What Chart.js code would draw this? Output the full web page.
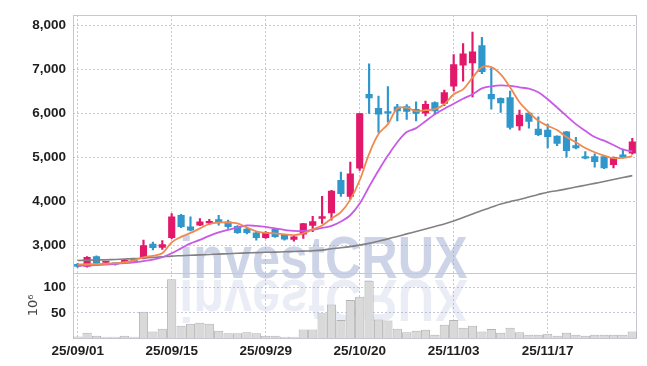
<!DOCTYPE html>
<html><head><meta charset="utf-8">
<script src="https://cdn.jsdelivr.net/npm/chart.js@4"></script>
<style>html,body{margin:0;padding:0;background:#fff}#wrap{width:647px;height:366px}</style>
</head><body><div id="wrap"><canvas id="c" width="647" height="366"></canvas></div>
<script>
const dates = ['25/09/01','25/09/02','25/09/03','25/09/04','25/09/05','25/09/08','25/09/09','25/09/10','25/09/11','25/09/12',
'25/09/15','25/09/16','25/09/17','25/09/18','25/09/19','25/09/22','25/09/23','25/09/24','25/09/25','25/09/26',
'25/09/29','25/09/30','25/10/01','25/10/02','25/10/10','25/10/13','25/10/14','25/10/15','25/10/16','25/10/17',
'25/10/20','25/10/21','25/10/22','25/10/23','25/10/24','25/10/27','25/10/28','25/10/29','25/10/30','25/10/31',
'25/11/03','25/11/04','25/11/05','25/11/06','25/11/07','25/11/10','25/11/11','25/11/12','25/11/13','25/11/14',
'25/11/17','25/11/18','25/11/19','25/11/20','25/11/21','25/11/24','25/11/25','25/11/26','25/11/27','25/11/28'];
const opens = [2571,2519,2745,2610,2594,2616,2690,2707,3029,2955,
3174,3684,3422,3458,3510,3587,3535,3430,3372,3287,
3174,3361,3232,3135,3255,3451,3609,3738,4474,4113,
4754,6430,6115,6020,6144,6153,6092,6002,6243,6221,
6618,7092,7146,7537,6431,6340,6356,5715,6002,5641,
5618,5483,5580,5264,5016,5016,5016,4835,5054,5092];
const highs = [2590,2745,2760,2625,2600,2680,2700,3120,3075,3106,
3722,3706,3648,3609,3590,3684,3571,3450,3400,3300,
3310,3375,3250,3210,3500,3661,4113,4250,4663,4889,
6000,7124,6392,6604,6205,6200,6260,6279,6260,6528,
7333,7582,7846,7724,7033,6350,6505,6070,6010,5918,
5754,5490,5590,5453,5128,5076,5030,5010,5167,5431];
const lows = [2500,2505,2580,2600,2550,2605,2630,2690,2894,2910,
3150,3400,3330,3444,3470,3458,3384,3270,3260,3120,
3160,3180,3120,3097,3158,3309,3497,3571,4113,4050,
4700,5995,5566,5800,5828,5860,5828,5940,5979,6170,
6505,6731,6370,6900,6092,6017,5641,5618,5663,5490,
5212,5264,5002,5190,4964,4776,4740,4760,4979,5070];
const closes = [2519,2729,2594,2615,2571,2668,2646,2993,2948,3016,
3648,3422,3345,3535,3530,3519,3422,3290,3287,3174,
3293,3196,3142,3196,3497,3542,3655,4235,4174,4625,
5995,6347,5979,6005,6054,6040,5995,6205,6054,6469,
7108,7349,7394,6943,6325,6234,5679,5957,5815,5512,
5467,5318,5151,5212,4979,4903,4760,5002,5002,5354];
const volumes = [3,10.5,4.6,2.6,2.6,4.6,2.6,52,13,18.4,
117,24.3,28.3,30.3,28.3,14.5,9.2,9.2,11.2,9.2,
4.6,4.6,2.6,2.6,17,17,49,66.4,36,75.6,
82,114,37,35,18.4,11.2,14.5,16.4,6.6,26.3,
36,20.4,24.3,13,17.8,10.5,20.4,11.2,6.6,6.6,
8.6,4.6,10.5,6.6,4.6,6.6,6.6,6.6,6.6,13];
const ma5 = [2564,2571,2571,2582,2594,2616,2661,2729,2763,2819,
3068,3192,3282,3384,3485,3519,3519,3497,3406,3316,
3282,3271,3248,3233,3271,3361,3451,3609,3756,4038,
4478,5076,5528,5754,6108,6126,6047,6070,6092,6205,
6431,6543,6808,7047,7047,6882,6589,6250,6025,5828,
5715,5618,5460,5341,5212,5115,5038,4979,4986,5025];
const ma20 = [2542,2542,2549,2560,2576,2594,2616,2643,2673,2729,
2819,2932,3045,3124,3214,3293,3350,3406,3451,3440,
3418,3384,3350,3327,3327,3350,3395,3440,3542,3684,
3948,4332,4700,5038,5341,5573,5663,5821,5979,6103,
6216,6329,6431,6566,6611,6634,6623,6589,6559,6476,
6318,6130,5941,5754,5602,5460,5377,5280,5178,5133];
const ma60 = [2655,2661,2666,2673,2680,2689,2698,2711,2725,2740,
2756,2765,2774,2783,2792,2801,2810,2819,2828,2835,
2842,2847,2853,2860,2869,2878,2892,2921,2944,2971,
3005,3045,3095,3147,3203,3260,3316,3372,3429,3485,
3553,3632,3711,3790,3864,3937,3993,4043,4099,4156,
4208,4241,4282,4325,4365,4408,4451,4494,4539,4584];
const priceTicks = [3000,4000,5000,6000,7000,8000];
const volumeTicks = [50,100];
const labelEvery = 10;

const UP = '#e2196a', DOWN = '#2f97cb';
const GRID = '#c4c6da';
const FONT = '"Liberation Sans","Arial",sans-serif';
const TICKFONT = { family: FONT, size: 13.5, weight: 'bold' };

const deco = {
  id: 'deco',
  beforeDatasetsDraw(chart) {
    const ctx = chart.ctx, a = chart.chartArea, vol = chart.scales.vol;
    const cx = chart.width / 2, by = vol.top + 5;
    ctx.save();
    ctx.font = 'bold 60px ' + FONT;
    ctx.textAlign = 'center';
    ctx.textBaseline = 'alphabetic';
    ctx.translate(cx, by);
    ctx.scale(0.84, 1);
    ctx.fillStyle = 'rgba(150,163,205,0.47)';
    ctx.fillText('investCRUX', 0, 0);
    ctx.translate(0, 2);
    ctx.scale(1, -1);
    ctx.fillStyle = 'rgba(150,163,205,0.2)';
    ctx.fillText('investCRUX', 0, 0);
    ctx.restore();
    ctx.save();
    ctx.strokeStyle = '#c6c7d2';
    ctx.lineWidth = 1;
    ctx.strokeRect(Math.round(a.left) + 0.5, Math.round(a.top) + 0.5, Math.round(a.right - a.left) - 1, Math.round(a.bottom - a.top));
    ctx.beginPath();
    ctx.moveTo(a.left, Math.round(vol.top) + 0.5);
    ctx.lineTo(a.right, Math.round(vol.top) + 0.5);
    ctx.stroke();
    ctx.restore();
  }
};

const bodyColors = closes.map((c, i) => c >= opens[i] ? UP : DOWN);

new Chart(document.getElementById('c'), {
  data: {
    labels: dates,
    datasets: [
      { type: 'line', label: 'MA5', data: ma5, yAxisID: 'y', borderColor: '#ef8a50', borderWidth: 1.8, pointRadius: 0, tension: 0.35, order: 0 },
      { type: 'line', label: 'MA20', data: ma20, yAxisID: 'y', borderColor: '#c85ae6', borderWidth: 1.8, pointRadius: 0, tension: 0.35, order: 0 },
      { type: 'line', label: 'MA60', data: ma60, yAxisID: 'y', borderColor: '#818181', borderWidth: 1.6, pointRadius: 0, tension: 0.35, order: 0 },
      { type: 'bar', label: 'body', data: opens.map((o, i) => [o, closes[i]]), yAxisID: 'y', backgroundColor: bodyColors, borderWidth: 0, barThickness: 6.5, minBarLength: 1.5, grouped: false, order: 1 },
      { type: 'bar', label: 'wick', data: lows.map((l, i) => [l, highs[i]]), yAxisID: 'y', backgroundColor: bodyColors, borderWidth: 0, barThickness: 1.5, grouped: false, order: 2 },
      { type: 'bar', label: 'volume', data: volumes, yAxisID: 'vol', backgroundColor: '#d9d9d9', borderColor: '#b3b3b3', borderWidth: 1, barPercentage: 1, categoryPercentage: 0.98, grouped: false, order: 3 }
    ]
  },
  options: {
    responsive: false,
    devicePixelRatio: 1,
    animation: false,
    layout: { padding: { left: 0, right: 10, top: 10, bottom: 0 } },
    plugins: { legend: { display: false }, tooltip: { enabled: false } },
    scales: {
      x: {
        type: 'category',
        offset: true,
        border: { display: false, dash: [2, 2] },
        grid: { offset: false, drawTicks: false, color: (c) => (c.index % labelEvery === 0 ? GRID : 'rgba(0,0,0,0)'), lineWidth: 1 },
        ticks: { autoSkip: false, maxRotation: 0, padding: 5, color: '#1e1e1e', font: TICKFONT,
          callback: (v, i) => (i % labelEvery === 0 ? dates[i] : '') },
        afterFit: (s) => { s.height = 28; }
      },
      vol: {
        type: 'linear', position: 'left', stack: 'main', stackWeight: 1,
        min: 0, max: 130,
        border: { display: false, dash: [2, 2] },
        grid: { drawTicks: false, color: GRID },
        afterBuildTicks: (s) => { s.ticks = volumeTicks.map(v => ({ value: v })); },
        ticks: { padding: 7, color: '#1e1e1e', font: TICKFONT },
        title: { display: true, text: '10\u2076', color: '#444', font: { family: 'DejaVu Sans', size: 13 }, padding: { top: 26, bottom: 0 } },
        afterFit: (s) => { s.width = 73; }
      },
      y: {
        type: 'linear', position: 'left', stack: 'main', stackWeight: 3.94,
        min: 2380, max: 8230,
        border: { display: false, dash: [2, 2] },
        grid: { drawTicks: false, color: GRID },
        afterBuildTicks: (s) => { s.ticks = priceTicks.map(v => ({ value: v })); },
        ticks: { padding: 7, color: '#1e1e1e', font: TICKFONT,
          callback: (v) => v.toLocaleString('en-US') },
        afterFit: (s) => { s.width = 73; }
      }
    }
  },
  plugins: [deco]
});
</script>
</body></html>
